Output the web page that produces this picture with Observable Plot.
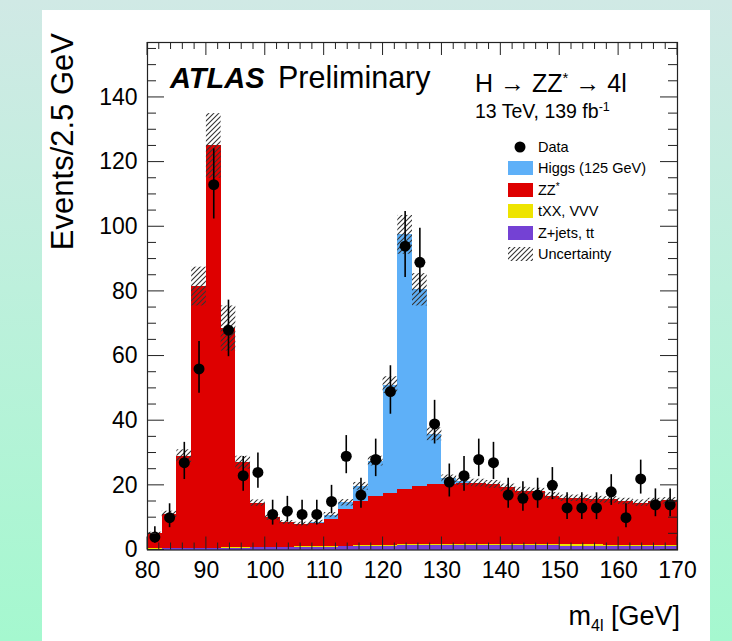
<!DOCTYPE html>
<html><head><meta charset="utf-8">
<script src="https://cdn.jsdelivr.net/npm/d3@7"></script>
<script src="https://cdn.jsdelivr.net/npm/@observablehq/plot@0.6"></script>
<style>
html,body{margin:0;padding:0;}
body{width:732px;height:641px;overflow:hidden;position:relative;
  background:linear-gradient(180deg,#d0e9e5 0%,#bdf0dc 45%,#a5f8cf 100%);
  font-family:"Liberation Sans",Arial,Helvetica,sans-serif;}
#panel{position:absolute;left:42px;top:10px;width:668px;height:631px;background:#fff;}
#chart{position:absolute;left:0;top:0;}
#overlay{position:absolute;left:0;top:0;pointer-events:none;}
</style></head>
<body>
<div id="panel"><div id="chart"></div></div>
<script>
// ---- data ----
const binLow = [80,82.5,85,87.5,90,92.5,95,97.5,100,102.5,105,107.5,110,112.5,115,117.5,120,122.5,125,127.5,130,132.5,135,137.5,140,142.5,145,147.5,150,152.5,155,157.5,160,162.5,165,167.5];
const binWidth = 2.5;
const zjets = [0.3,0.35,0.4,0.45,0.5,0.55,0.6,0.65,0.7,0.75,0.8,0.85,0.9,1.0,1.05,1.1,1.2,1.25,1.3,1.3,1.35,1.35,1.35,1.35,1.3,1.3,1.3,1.25,1.2,1.2,1.15,1.1,1.1,1.05,1.0,1.0];
const txx   = [0.05,0.05,0.05,0.1,0.1,0.1,0.1,0.1,0.1,0.1,0.15,0.15,0.15,0.2,0.2,0.2,0.25,0.3,0.35,0.4,0.45,0.45,0.5,0.5,0.5,0.5,0.45,0.45,0.45,0.45,0.4,0.4,0.4,0.4,0.4,0.4];
const zz    = [4.65,10.6,28.55,80.95,124.4,67.85,26.3,13.75,9.2,7.65,7.05,7.3,8.25,11.4,13.75,15.4,16.15,17.25,18.05,18.6,18.6,18.8,18.65,18.45,17.4,16.4,16.25,15.0,14.35,14.35,14.05,14.0,13.5,13.05,13.6,13.8];
const higgs = [0,0,0,0,0,0,0,0,0,0,0,0.3,1.5,2.0,4.7,10.8,33.4,78.7,60.8,15.5,1.6,0.5,0.2,0,0,0,0,0,0,0,0,0,0,0,0,0];
const unc   = [0.5,1,2,6,10,7,2,1,0.8,0.6,0.6,0.6,0.8,1,1.2,1.5,2.6,6,5,2,1.2,1.2,1.2,1.2,1.2,1.2,1.1,1.1,1,1,1,1,1,1,1,1];
const dataN = [4,10,27,56,113,68,23,24,11,12,11,11,15,29,17,28,49,94,89,39,21,23,28,27,17,16,17,20,13,13,13,18,10,22,14,14];
const errLo = [1.9,3.1,5.2,7.5,10.6,8.2,4.8,4.9,3.3,3.4,3.3,3.3,3.8,5.4,4.1,5.3,7.0,9.7,9.4,6.2,4.6,4.8,5.3,5.2,4.1,4.0,4.1,4.4,3.6,3.6,3.6,4.2,3.1,4.7,3.7,3.7];
const errHi = [3.2,4.3,6.3,8.5,11.1,9.3,5.9,6.0,4.4,4.6,4.4,4.4,5.0,6.4,5.2,6.3,8.0,10.7,10.5,7.3,5.6,5.9,6.3,6.3,5.2,5.1,5.2,5.5,4.7,4.7,4.7,5.3,4.3,5.8,4.9,4.9];
const processes = ["Z+jets, tt","tXX, VVV","ZZ*","Higgs (125 GeV)"];
const procColors = ["#7441d4","#eee400","#de0000","#5eb0f8"];
const xTicks = [80,90,100,110,120,130,140,150,160,170];
const yTicks = [0,20,40,60,80,100,120,140];

// ---- tables ----
const series = [zjets, txx, zz, higgs];
const rows = [];
const bins = [];
binLow.forEach((lo, i) => {
  let base = 0;
  series.forEach((s, k) => {
    rows.push({x1: lo, x2: lo + binWidth, y1: base, y2: base + s[i], proc: processes[k]});
    base += s[i];
  });
  bins.push({x1: lo, x2: lo + binWidth, tot: base, unc: unc[i], c: lo + binWidth / 2,
             n: dataN[i], lo: dataN[i] - errLo[i], hi: dataN[i] + errHi[i]});
});
const xMinor = d3.range(80, 170.01, 2).filter(v => v % 10 !== 0);
const yMinor = d3.range(0, 157, 5).filter(v => v % 20 !== 0);

const W = 668, H = 631;
const ML = 105, MR = 33, MT = 32, MB = 91.5;
const chart = Plot.plot({
  width: W, height: H,
  marginLeft: ML, marginRight: MR, marginTop: MT, marginBottom: MB,
  style: {fontFamily: '"Liberation Sans", Arial, Helvetica, sans-serif', background: "transparent"},
  x: {domain: [80, 170]},
  y: {domain: [0, 157]},
  color: {domain: processes, range: procColors},
  marks: [
    Plot.rect(rows, {x1: "x1", x2: "x2", y1: "y1", y2: "y2", fill: "proc", shapeRendering: "crispEdges"}),
    Plot.rect(bins, {x1: "x1", x2: "x2", y1: d => d.tot - d.unc, y2: d => d.tot + d.unc, fill: "url(#hatch)"}),
    Plot.ruleX(bins, {x: "c", y1: "lo", y2: "hi", stroke: "black", strokeWidth: 1.6}),
    Plot.dot(bins, {x: "c", y: "n", r: 5.5, fill: "black", stroke: null}),
    Plot.axisX(xTicks, {anchor: "bottom", tickSize: 0, tickPadding: 12, fontSize: 23, label: null, fill: "black"}),
    Plot.axisY(yTicks, {anchor: "left", tickSize: 0, tickPadding: 10, fontSize: 23, label: null, fill: "black"}),
    Plot.frame({stroke: "#222", strokeWidth: 1.2})
  ]
});
const defs = d3.select(chart).insert("defs", ":first-child");
const pat = defs.append("pattern").attr("id", "hatch").attr("patternUnits", "userSpaceOnUse")
  .attr("width", 5).attr("height", 5);
pat.append("path").attr("d", "M-1,1 l2,-2 M0,5 l5,-5 M4,6 l2,-2")
  .attr("stroke", "#333").attr("stroke-width", 1.1).attr("fill", "none");

// inward ticks on all four sides, positioned with Plot's own scales
const sx = chart.scale("x"), sy = chart.scale("y");
const fLeft = ML, fRight = W - MR, fTop = MT, fBottom = H - MB;
const tg = d3.select(chart).append("g").attr("stroke", "#222").attr("stroke-width", 1);
function drawXTicks(vals, len) {
  vals.forEach(v => {
    const x = sx.apply(v);
    tg.append("line").attr("x1", x).attr("x2", x).attr("y1", fBottom).attr("y2", fBottom - len);
    tg.append("line").attr("x1", x).attr("x2", x).attr("y1", fTop).attr("y2", fTop + len);
  });
}
function drawYTicks(vals, len) {
  vals.forEach(v => {
    const y = sy.apply(v);
    tg.append("line").attr("y1", y).attr("y2", y).attr("x1", fLeft).attr("x2", fLeft + len);
    tg.append("line").attr("y1", y).attr("y2", y).attr("x1", fRight).attr("x2", fRight - len);
  });
}
drawXTicks(xTicks, 13); drawXTicks(xMinor, 7);
drawYTicks(yTicks, 17); drawYTicks(yMinor, 9);
document.getElementById("chart").appendChild(chart);

// ---- overlay texts & legend ----
const ov = d3.select("#panel").append("svg").attr("id", "overlay").attr("width", W).attr("height", H)
  .style("font-family", '"Liberation Sans", Arial, Helvetica, sans-serif');
const od = ov.append("defs");
const p2 = od.append("pattern").attr("id", "hatch2").attr("patternUnits", "userSpaceOnUse")
  .attr("width", 5).attr("height", 5);
p2.append("path").attr("d", "M-1,1 l2,-2 M0,5 l5,-5 M4,6 l2,-2")
  .attr("stroke", "#333").attr("stroke-width", 1.1).attr("fill", "none");

// y title
ov.append("text").attr("transform", "translate(31,23) rotate(-90)").attr("text-anchor", "end")
  .attr("font-size", 31).text("Events/2.5 GeV");
// x title
const xtl = ov.append("text").attr("x", 638).attr("y", 615).attr("text-anchor", "end").attr("font-size", 27);
xtl.append("tspan").text("m");
xtl.append("tspan").attr("dy", 6).attr("font-size", 16).text("4l");
xtl.append("tspan").attr("dy", -6).text(" [GeV]");
// ATLAS Preliminary
ov.append("text").attr("x", 128).attr("y", 78).attr("font-size", 29).attr("font-weight", "bold")
  .attr("font-style", "italic").text("ATLAS");
ov.append("text").attr("x", 236).attr("y", 78).attr("font-size", 30.5).text("Preliminary");
// process label
const pl = ov.append("text").attr("x", 433).attr("y", 82).attr("font-size", 25);
pl.append("tspan").text("H \u2192 ZZ");
pl.append("tspan").attr("dy", -9).attr("font-size", 15).text("*");
pl.append("tspan").attr("dy", 9).text(" \u2192 4l");
const en = ov.append("text").attr("x", 433).attr("y", 108).attr("font-size", 19.5);
en.append("tspan").text("13 TeV, 139 fb");
en.append("tspan").attr("dy", -7).attr("font-size", 12.5).text("-1");

// legend
const legY = [137, 158, 180, 201, 223, 244];
const lg = ov.append("g").attr("font-size", 14.5);
lg.append("circle").attr("cx", 478).attr("cy", legY[0]).attr("r", 5.5).attr("fill", "black");
lg.append("text").attr("x", 496).attr("y", legY[0] + 5).text("Data");
const legOrder = [3, 2, 1, 0];
legOrder.forEach((k, j) => {
  const yc = legY[j + 1];
  lg.append("rect").attr("x", 466).attr("y", yc - 7).attr("width", 25).attr("height", 14).attr("fill", procColors[k]);
  const t = lg.append("text").attr("x", 496).attr("y", yc + 5);
  if (processes[k] === "ZZ*") {
    t.append("tspan").text("ZZ");
    t.append("tspan").attr("dy", -5).attr("font-size", 10).text("*");
  } else t.text(processes[k]);
});
lg.append("rect").attr("x", 466).attr("y", legY[5] - 7).attr("width", 25).attr("height", 14).attr("fill", "url(#hatch2)");
lg.append("text").attr("x", 496).attr("y", legY[5] + 5).text("Uncertainty");
</script>
</body></html>
